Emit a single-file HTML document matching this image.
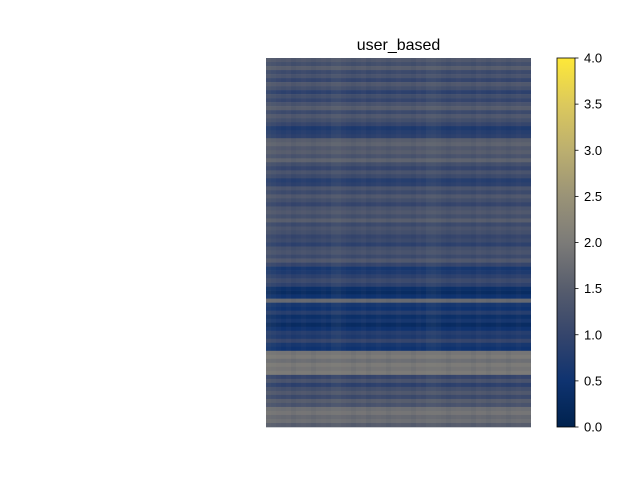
<!DOCTYPE html>
<html><head><meta charset="utf-8"><style>
body{margin:0;background:#fff;}
svg{display:block;font-family:"Liberation Sans","DejaVu Sans",sans-serif;}
</style></head><body>
<svg id="chart" width="640" height="480">
<defs>
<linearGradient id="cividis" x1="0" y1="1" x2="0" y2="0">
<stop offset="0" stop-color="#00224e"/><stop offset="0.125" stop-color="#0f3370"/>
<stop offset="0.25" stop-color="#35456c"/><stop offset="0.375" stop-color="#575d6d"/>
<stop offset="0.5" stop-color="#7c7b78"/><stop offset="0.625" stop-color="#9a9377"/>
<stop offset="0.75" stop-color="#bcaf6f"/><stop offset="0.875" stop-color="#dcc95c"/>
<stop offset="1" stop-color="#fee838"/>
</linearGradient>
</defs>
<text x="398.5" y="50" text-anchor="middle" font-size="16" fill="#000">user_based</text>
<g id="heat"></g>
<g id="cols"></g>
<rect x="557" y="58" width="18" height="369" fill="url(#cividis)" stroke="#000" stroke-width="0.8"/>
<g id="cbticks"></g>
</svg>
<script>
const rowValues=[1.4,1.2,1.5,1.1,1.3,1.0,1.4,1.2,0.9,1.2,1.0,1.3,1.5,1.1,1.4,1.2,1.0,0.7,0.8,0.9,1.5,1.6,1.4,1.5,1.3,1.6,1.2,1.0,1.3,1.1,0.8,0.9,1.3,1.1,1.4,1.2,1.0,1.3,1.4,1.2,1.5,1.1,1.3,1.2,1.0,1.1,0.9,1.2,1.3,1.1,1.4,1.0,0.6,0.7,0.9,1.1,0.9,0.4,0.3,0.5,1.7,0.6,0.5,0.8,0.4,0.6,0.3,0.5,0.8,0.7,1.0,0.6,0.5,1.9,2.0,1.8,2.0,1.9,2.0,1.0,1.3,0.9,1.2,1.4,1.1,1.5,1.3,1.8,1.9,1.7,1.8,1.5];
const colValues=[0.3,0.2,0.1,0.0,0.1,-0.1,0.0,0.1,0.0,-0.1,0.0,0.1,0.0,0.2,0.25,0.1,0.0,-0.1,0.0,0.1,-0.1,0.0,0.1,0.0,-0.1,0.0,0.1,0.0,0.0,-0.1,0.1,0.0,0.2,0.25,0.15,0.0,-0.1,0.0,0.1,0.0,0.0,-0.1,0.1,0.0,-0.1,0.0,0.1,0.0,-0.1,0.0,0.1,0.0,0.0];
const cbTicks=[0,0.5,1,1.5,2,2.5,3,3.5,4];
const vmin=0,vmax=4;
const X0=266,X1=531,Y0=58,Y1=427;
const stops=[[0,[0,34,78]],[0.125,[15,51,112]],[0.25,[53,69,108]],[0.375,[87,93,109]],[0.5,[124,123,120]],[0.625,[154,147,119]],[0.75,[188,175,111]],[0.875,[220,201,92]],[1,[254,232,56]]];
function cmap(v){let t=Math.max(0,Math.min(1,(v-vmin)/(vmax-vmin)));
 for(let i=1;i<stops.length;i++){if(t<=stops[i][0]){const a=stops[i-1],b=stops[i],f=(t-a[0])/(b[0]-a[0]);
 return 'rgb('+a[1].map((c,k)=>Math.round(c+(b[1][k]-c)*f)).join(',')+')';}}return 'rgb(254,232,56)';}
const ns='http://www.w3.org/2000/svg';
const heat=document.getElementById('heat');
const rh=(Y1-Y0)/rowValues.length;
rowValues.forEach((v,i)=>{const r=document.createElementNS(ns,'rect');
 r.setAttribute('x',X0);r.setAttribute('y',Y0+i*rh);r.setAttribute('width',X1-X0);r.setAttribute('height',rh+0.3);
 r.setAttribute('fill',cmap(v));
 
 
 heat.appendChild(r);});
const cols=document.getElementById('cols');
const cw=(X1-X0)/colValues.length;
colValues.forEach((v,i)=>{const r=document.createElementNS(ns,'rect');
 r.setAttribute('x',X0+i*cw);r.setAttribute('y',Y0);r.setAttribute('width',cw);r.setAttribute('height',Y1-Y0);
 r.setAttribute('fill',v>=0?'#9c9888':'#001a50');r.setAttribute('opacity',Math.abs(v)*0.35);
 
 
 cols.appendChild(r);});
const cb=document.getElementById('cbticks');
function cy(v){return Y1-(v-vmin)/(vmax-vmin)*(Y1-Y0);}
cbTicks.forEach(v=>{const y=cy(v);
 const l=document.createElementNS(ns,'line');l.setAttribute('x1',575);l.setAttribute('x2',578.5);l.setAttribute('y1',y);l.setAttribute('y2',y);l.setAttribute('stroke','#000');l.setAttribute('stroke-width','0.8');
 
 
 cb.appendChild(l);
 const t=document.createElementNS(ns,'text');t.setAttribute('x',584);t.setAttribute('y',y+4.5);t.setAttribute('font-size','13');t.textContent=v.toFixed(1);
 
 
 cb.appendChild(t);});
</script>
</body></html>
